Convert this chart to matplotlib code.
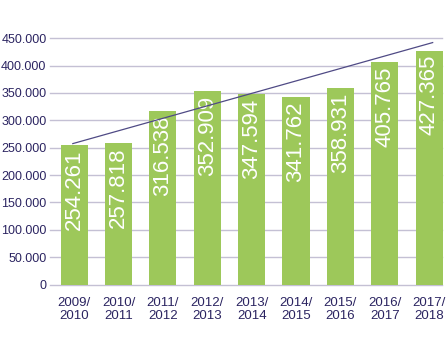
import numpy as np
import matplotlib.pyplot as plt

seasons = ['2009/\n2010', '2010/\n2011', '2011/\n2012', '2012/\n2013', '2013/\n2014',
           '2014/\n2015', '2015/\n2016', '2016/\n2017', '2017/\n2018']
visitors = [254261, 257818, 316538, 352909, 347594, 341762, 358931, 405765, 427365]
labels = ['254.261', '257.818', '316.538', '352.909', '347.594',
          '341.762', '358.931', '405.765', '427.365']
yticks = [0, 50000, 100000, 150000, 200000, 250000, 300000, 350000, 400000, 450000]
ytick_labels = ['0', '50.000', '100.000', '150.000', '200.000', '250.000',
                '300.000', '350.000', '400.000', '450.000']
# rising guide line drawn over the bars
trend_x = [-0.03, 8.08]
trend_y = [257500, 442000]

green = '#9dc85a'
navy = '#2b2461'
grid = '#c4c0d4'

plt.rcParams['font.family'] = ['Liberation Sans', 'DejaVu Sans']

fig = plt.figure(figsize=(4.46, 3.38), dpi=100)
ax = fig.add_axes([0.112, 0.158, 0.879, 0.729])

x = np.arange(len(visitors))
for yv in yticks:
    ax.axhline(yv, color=grid, lw=1, zorder=0, clip_on=False)
ax.bar(x, visitors, width=0.61, color=green, zorder=2, clip_on=False)
for xi, v, lab in zip(x, visitors, labels):
    ax.annotate(lab, (xi, v), xytext=(0, -3), textcoords='offset points',
                rotation=90, ha='center', va='top', color='white',
                fontsize=16, zorder=3)
ax.plot(trend_x, trend_y, color='#4f4a85', lw=0.9, zorder=4, clip_on=False)

ax.set_xlim(-0.545, 8.29)
ax.set_ylim(0, 450000)
ax.set_yticks(yticks)
ax.set_yticklabels(ytick_labels)
ax.set_xticks(x)
ax.set_xticklabels(seasons, linespacing=1.15)
ax.tick_params(length=0, labelsize=9, labelcolor=navy)
ax.tick_params(axis='x', labelsize=9.5, pad=9)
ax.tick_params(axis='y', pad=2.5)
for s in ax.spines.values():
    s.set_visible(False)

fig.savefig('out.png', dpi=100)
